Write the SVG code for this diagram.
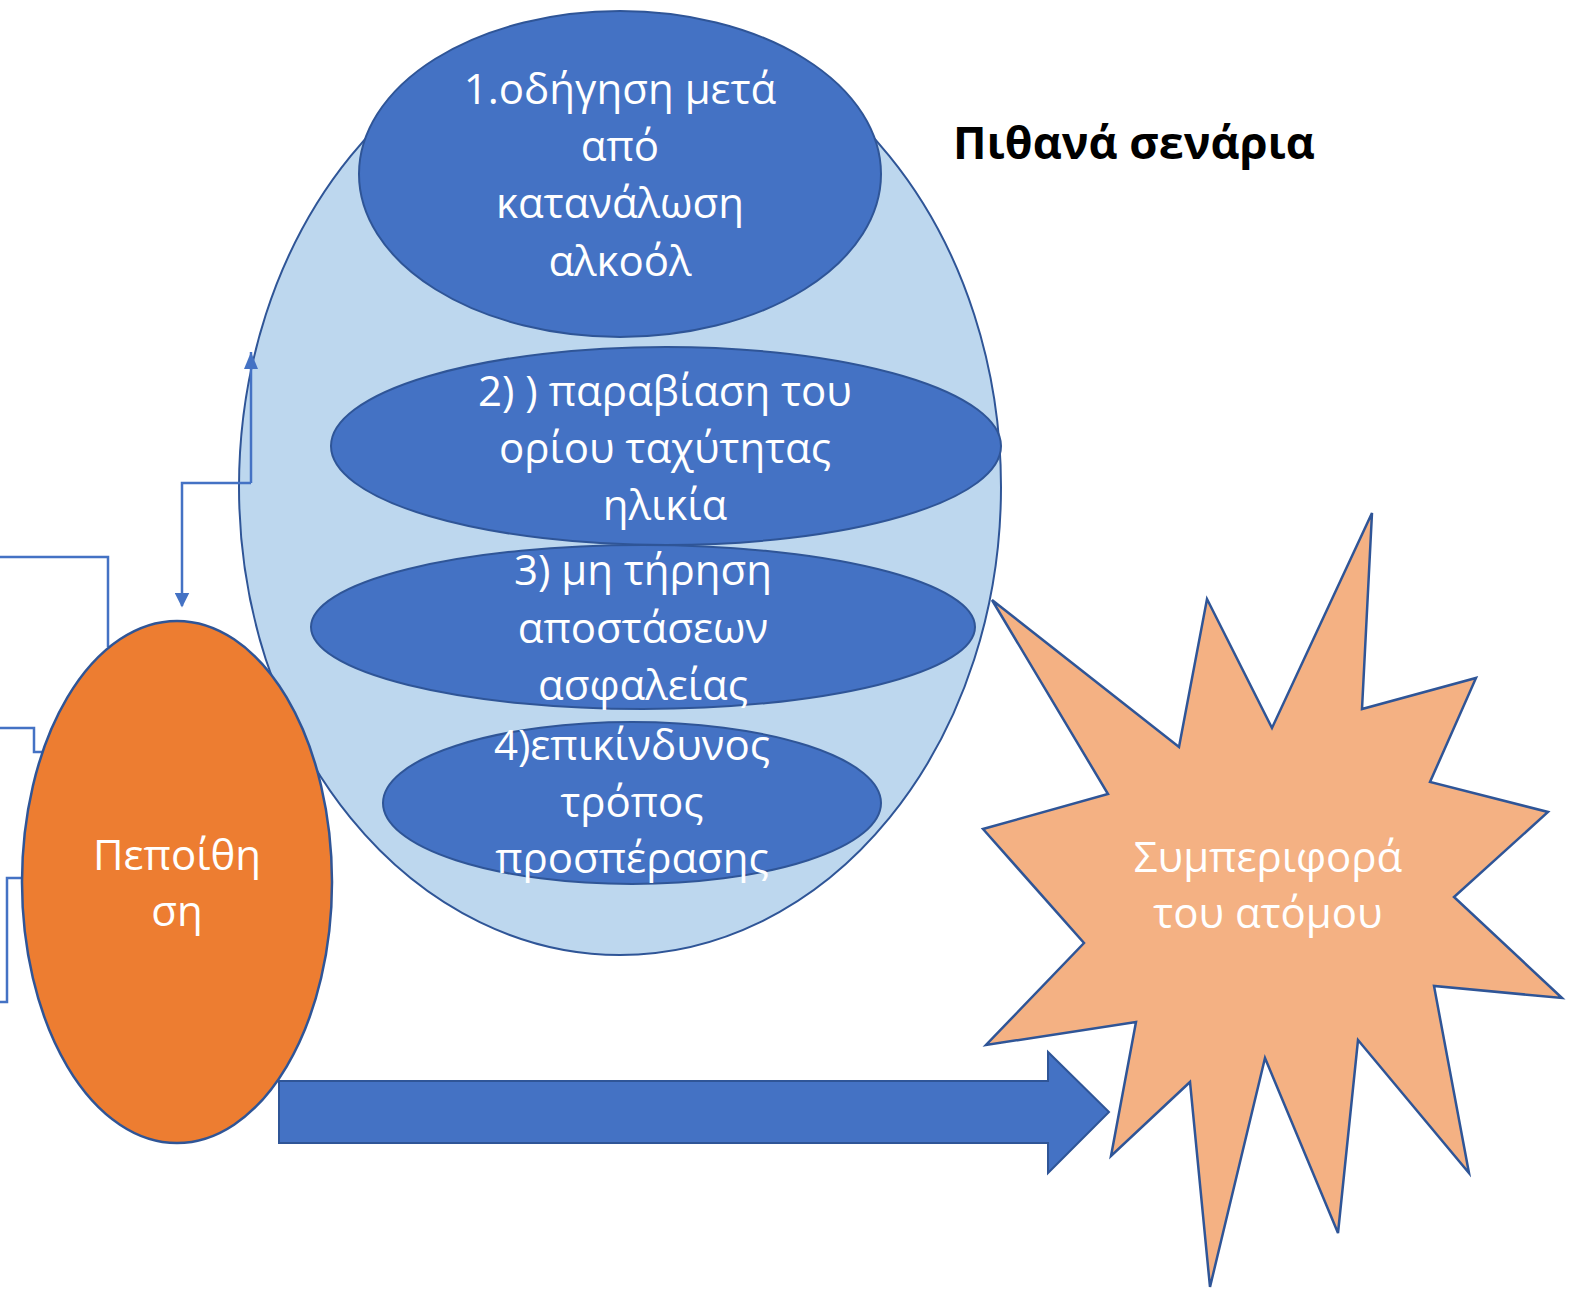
<svg xmlns="http://www.w3.org/2000/svg" width="1575" height="1290" viewBox="0 0 1575 1290">
<defs>
<style>
.bg{fill:#BDD7EE;stroke:#2F5597;stroke-width:2}
.blue{fill:#4472C4;stroke:#2F5597;stroke-width:2}
.orange{fill:#ED7D31;stroke:#2F5597;stroke-width:2.5}
.star{fill:#F4B183;stroke:#2F5597;stroke-width:2.5}
.conn{fill:none;stroke:#4472C4;stroke-width:2.5}
.t{font-family:"Open Sans","Noto Sans",sans-serif;font-size:42px;fill:#FFFFFF;text-anchor:middle}
.title{font-family:"Open Sans","Noto Sans",sans-serif;font-size:45px;font-weight:bold;fill:#000000}
</style>
<marker id="ah" viewBox="0 0 10 10" refX="9" refY="5" markerWidth="6" markerHeight="6" markerUnits="strokeWidth" orient="auto-start-reverse">
<path d="M0,0 L10,5 L0,10 Z" fill="#4472C4"/>
</marker>
</defs>
<rect width="1575" height="1290" fill="#FFFFFF"/>

<g id="scenarios">
<ellipse class="bg" cx="620" cy="487" rx="381" ry="468"/>
</g>
<g id="s1">
<ellipse class="blue" cx="620" cy="174" rx="261" ry="163"/>
<text class="t" x="620" y="104">1.οδήγηση μετά</text>
<text class="t" x="620" y="161">από</text>
<text class="t" x="620" y="218">κατανάλωση</text>
<text class="t" x="620" y="276">αλκοόλ</text>
</g>
<g id="s2">
<ellipse class="blue" cx="666" cy="446" rx="335" ry="99"/>
<text class="t" x="665" y="406">2) ) παραβίαση του</text>
<text class="t" x="665" y="463">ορίου ταχύτητας</text>
<text class="t" x="665" y="520">ηλικία</text>
</g>
<g id="s3">
<ellipse class="blue" cx="643" cy="627" rx="332" ry="82"/>
<text class="t" x="643" y="585">3) μη τήρηση</text>
<text class="t" x="643" y="643">αποστάσεων</text>
<text class="t" x="643" y="700">ασφαλείας</text>
</g>
<g id="s4">
<ellipse class="blue" cx="632" cy="803" rx="249" ry="81"/>
<text class="t" x="632" y="760">4)επικίνδυνος</text>
<text class="t" x="632" y="817">τρόπος</text>
<text class="t" x="632" y="873">προσπέρασης</text>
</g>

<g id="title">
<text class="title" x="953" y="159">Πιθανά σενάρια</text>
</g>

<g id="connectors">
<polyline class="conn" points="251,483 251,352"/>
<polyline class="conn" points="251,483 182,483 182,606" marker-end="url(#ah)"/>
<path d="M244,369 L251,352 L258,369 Z" fill="#4472C4"/>
<polyline class="conn" points="0,557 108,557 108,647"/>
<polyline class="conn" points="0,728 34,728 34,752 43,752"/>
<polyline class="conn" points="0,1002 7,1002 7,878 24,878"/>
</g>

<g id="belief">
<ellipse class="orange" cx="177" cy="882" rx="155" ry="261"/>
<text class="t" x="177" y="870">Πεποίθη</text>
<text class="t" x="177" y="926">ση</text>
</g>

<g id="bigarrow">
<path class="blue" d="M279,1081 L1048,1081 L1048,1052 L1109,1112 L1048,1173 L1048,1143 L279,1143 Z"/>
</g>

<g id="behaviour">
<polygon class="star" points="992,600 1179,747 1207,599 1272,728 1372,513 1362,709 1476,678 1430,782 1548,812 1454,897 1562,998 1434,986 1469,1173 1358,1040 1338,1233 1265,1058 1210,1287 1190,1082 1111,1156 1136,1022 986,1045 1084,943 983,829 1108,794"/>
<text class="t" x="1268" y="872">Συμπεριφορά</text>
<text class="t" x="1268" y="928">του ατόμου</text>
</g>
</svg>
